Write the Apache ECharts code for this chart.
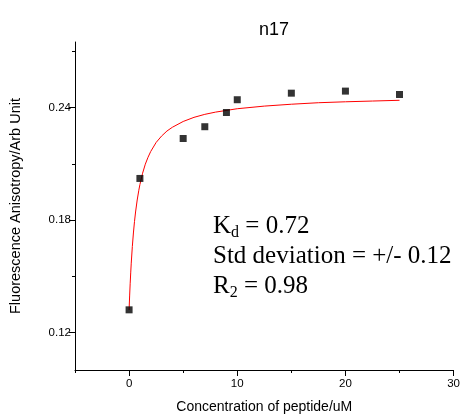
<!DOCTYPE html>
<html>
<head>
<meta charset="utf-8">
<script src="https://cdn.jsdelivr.net/npm/echarts@6/dist/echarts.min.js"></script>
<style>
html,body{margin:0;padding:0;background:#fff;}
#chart{width:463px;height:419px;}
</style>
</head>
<body>
<div id="chart"></div>
<script>
// Measured data points
const concX = [0, 1, 5, 7, 9, 10, 15, 20, 25];
const anisoY = [0.1321, 0.2022, 0.2235, 0.2298, 0.2374, 0.2442, 0.2477, 0.2488, 0.2470];
// Fitted curve
const fitX = [0, 0.05, 0.1, 0.15, 0.2, 0.3, 0.4, 0.5, 0.6, 0.75, 0.9, 1, 1.25, 1.5, 1.75, 2, 2.5, 3, 3.5, 4, 5, 6, 7, 8, 10, 12.5, 15, 17.5, 20, 22.5, 25];
const fitY = [0.1320, 0.1395, 0.1460, 0.1518, 0.1570, 0.1659, 0.1731, 0.1792, 0.1843, 0.1907, 0.1959, 0.1989, 0.2050, 0.2098, 0.2135, 0.2166, 0.2214, 0.2248, 0.2275, 0.2295, 0.2326, 0.2348, 0.2364, 0.2376, 0.2394, 0.2408, 0.2418, 0.2426, 0.2431, 0.2435, 0.2439];
// Ticks
const xMajorTicks = [0, 10, 20, 30];
const xMinorTicks = [-5, 5, 15, 25];
const yMajorTicks = [0.12, 0.18, 0.24];
const yMinorTicks = [0.15, 0.21, 0.27];
const titleText = 'n17';
const xTitle = 'Concentration of peptide/uM';
const yTitle = 'Fluorescence Anisotropy/Arb Unit';

const chart = echarts.init(document.getElementById('chart'), null, {renderer: 'canvas'});
const sans = 'Liberation Sans, Arial, sans-serif';
const lineStyle = {color: '#000', width: 1};

const option = {
  animation: false,
  backgroundColor: '#fff',
  title: {
    text: titleText,
    left: 254,
    top: 16,
    textStyle: {fontFamily: sans, fontSize: 18, fontWeight: 'normal', color: '#000'}
  },
  grid: {left: 75, right: 9, top: 42, bottom: 46, containLabel: false},
  xAxis: [{
    type: 'value', min: -5, max: 30,
    name: xTitle, nameLocation: 'middle', nameGap: 30,
    nameTextStyle: {fontFamily: sans, fontSize: 14, color: '#000'},
    axisLine: {show: true, onZero: false, lineStyle: lineStyle},
    axisTick: {show: true, customValues: xMajorTicks, length: 6, lineStyle: lineStyle},
    axisLabel: {customValues: xMajorTicks, fontFamily: sans, fontSize: 11.5, color: '#000', margin: 8},
    splitLine: {show: false}
  }, {
    type: 'value', min: -5, max: 30, position: 'bottom',
    axisLine: {show: false, onZero: false},
    axisTick: {show: true, customValues: xMinorTicks, length: 3, lineStyle: lineStyle},
    axisLabel: {show: false},
    splitLine: {show: false}
  }],
  yAxis: [{
    type: 'value', min: 0.10, max: 0.275,
    name: yTitle, nameLocation: 'middle', nameGap: 52, nameRotate: 90,
    nameTextStyle: {fontFamily: sans, fontSize: 14.5, color: '#000'},
    axisLine: {show: true, onZero: false, lineStyle: lineStyle},
    axisTick: {show: true, customValues: yMajorTicks, length: 6, lineStyle: lineStyle},
    axisLabel: {customValues: yMajorTicks, fontFamily: sans, fontSize: 11.5, color: '#000', margin: 4,
      formatter: v => v.toFixed(2)},
    splitLine: {show: false}
  }, {
    type: 'value', min: 0.10, max: 0.275, position: 'left',
    axisLine: {show: false, onZero: false},
    axisTick: {show: true, customValues: yMinorTicks, length: 3, lineStyle: lineStyle},
    axisLabel: {show: false},
    splitLine: {show: false}
  }],
  series: [{
    type: 'line',
    data: fitX.map((x, i) => [x, fitY[i]]),
    smooth: false,
    showSymbol: false,
    lineStyle: {color: '#ff0000', width: 1},
    z: 2
  }, {
    type: 'scatter',
    data: concX.map((x, i) => [x, anisoY[i]]),
    symbol: 'rect',
    symbolSize: 7,
    itemStyle: {color: '#000'},
    z: 3
  }],
  graphic: [{
    type: 'text',
    left: 213,
    top: 211,
    style: {
      text: 'K{sub|d} = 0.72\nStd deviation = +/- 0.12\nR{sub|2} = 0.98',
      fontFamily: 'Liberation Serif, Times New Roman, serif',
      fontSize: 25,
      lineHeight: 30,
      fill: '#000',
      rich: {
        sub: {fontSize: 16, lineHeight: 18, verticalAlign: 'bottom',
              fontFamily: 'Liberation Serif, Times New Roman, serif', fill: '#000'}
      }
    }
  }]
};
chart.setOption(option);
</script>
</body>
</html>
